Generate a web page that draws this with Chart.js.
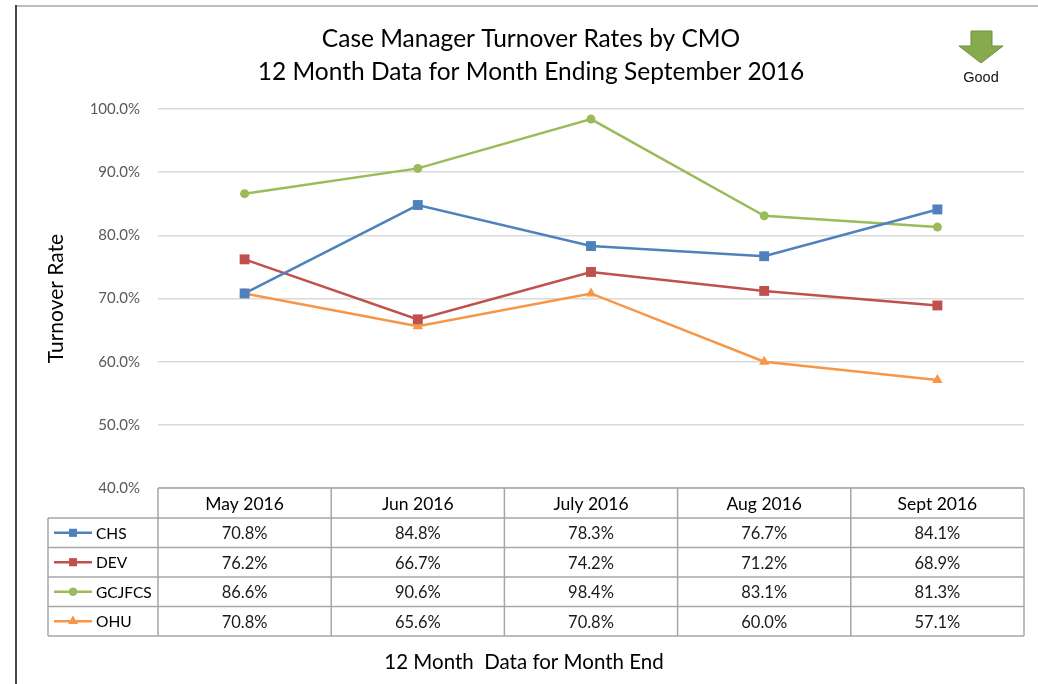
<!DOCTYPE html>
<html>
<head>
<meta charset="utf-8">
<title>Case Manager Turnover Rates by CMO</title>
<script src="https://cdn.jsdelivr.net/npm/chart.js@4"></script>
<style>
  body { margin: 0; background: #fff; }
  #wrap { width: 1038px; height: 684px; position: relative; }
</style>
</head>
<body>
<div id="wrap"><canvas id="turnoverChart" width="1038" height="684"></canvas></div>
<script>
// Chart data
const months = ['May 2016', 'Jun 2016', 'July 2016', 'Aug 2016', 'Sept 2016'];
const chsRates = [70.8, 84.8, 78.3, 76.7, 84.1];
const devRates = [76.2, 66.7, 74.2, 71.2, 68.9];
const gcjfcsRates = [86.6, 90.6, 98.4, 83.1, 81.3];
const ohuRates = [70.8, 65.6, 70.8, 60.0, 57.1];
const yTicks = [40, 50, 60, 70, 80, 90, 100];

const titleLines = ['Case Manager Turnover Rates by CMO', '12 Month Data for Month Ending September 2016'];
const xTitle = '12 Month  Data for Month End';
const yTitle = 'Turnover Rate';

const FONT = 'Lato, "Open Sans", sans-serif';

const series = [
    { label: 'CHS', data: chsRates, color: '#4F81BD', style: 'rect', radius: 7 },
    { label: 'DEV', data: devRates, color: '#C0504D', style: 'rect', radius: 7 },
    { label: 'GCJFCS', data: gcjfcsRates, color: '#9BBB59', style: 'circle', radius: 4.5 },
    { label: 'OHU', data: ohuRates, color: '#F79646', style: 'triangle', radius: 6 }
];

function fmt(v) {
    return v.toFixed(1) + '%';
}

/**
 * Draws the titles, the "Good" arrow, the frame and the data table
 */
const decorPlugin = {
    id: 'decor',
    afterDraw(chart) {
        const ctx = chart.ctx;
        const area = chart.chartArea;
        const xScale = chart.scales.x;
        ctx.save();

        // frame
        ctx.strokeStyle = '#bdbdbd';
        ctx.lineWidth = 2;
        ctx.beginPath();
        ctx.moveTo(15, 6);
        ctx.lineTo(1038, 6);
        ctx.stroke();
        ctx.strokeStyle = '#474747';
        ctx.beginPath();
        ctx.moveTo(16, 5);
        ctx.lineTo(16, 684);
        ctx.stroke();

        // titles
        ctx.fillStyle = '#000';
        ctx.textAlign = 'center';
        ctx.textBaseline = 'middle';
        ctx.font = '24.5px ' + FONT;
        ctx.fillText(titleLines[0], 531, 39);
        ctx.fillText(titleLines[1], 531, 72);

        // good arrow
        ctx.fillStyle = '#86AA4C';
        ctx.strokeStyle = '#6F8F3A';
        ctx.lineWidth = 1;
        ctx.beginPath();
        ctx.moveTo(971, 31);
        ctx.lineTo(992, 31);
        ctx.lineTo(992, 46);
        ctx.lineTo(1003, 46);
        ctx.lineTo(981, 63);
        ctx.lineTo(959, 46);
        ctx.lineTo(971, 46);
        ctx.closePath();
        ctx.fill();
        ctx.stroke();
        ctx.fillStyle = '#111';
        ctx.font = '14.5px "Liberation Sans", Arial, sans-serif';
        ctx.fillText('Good', 981, 78);

        // data table
        const step = area.width / months.length;
        const rowTop = area.bottom;
        const rowH = [30, 29.5, 29.5, 29.5, 29.5];
        const rowY = [rowTop];
        rowH.forEach(h => rowY.push(rowY[rowY.length - 1] + h));
        const legendLeft = 48;

        ctx.strokeStyle = '#a6a6a6';
        ctx.lineWidth = 1.5;
        // horizontal lines
        ctx.beginPath();
        ctx.moveTo(area.left, rowY[0]);
        ctx.lineTo(area.right, rowY[0]);
        for (let r = 1; r < rowY.length; r++) {
            ctx.moveTo(legendLeft, rowY[r]);
            ctx.lineTo(area.right, rowY[r]);
        }
        // vertical lines
        ctx.moveTo(legendLeft, rowY[1]);
        ctx.lineTo(legendLeft, rowY[rowY.length - 1]);
        for (let i = 0; i <= months.length; i++) {
            const x = xScale.getPixelForValue(i) - step / 2;
            ctx.moveTo(x, rowY[0]);
            ctx.lineTo(x, rowY[rowY.length - 1]);
        }
        ctx.stroke();

        // header texts
        ctx.font = '17.5px ' + FONT;
        ctx.fillStyle = '#000';
        months.forEach((m, i) => {
            ctx.fillText(m, xScale.getPixelForValue(i), rowY[0] + rowH[0] / 2 + 1);
        });

        // rows
        series.forEach((s, r) => {
            const cy = rowY[r + 1] + rowH[r + 1] / 2;
            ctx.font = '16.5px ' + FONT;
            ctx.fillStyle = '#1a1a1a';
            ctx.textAlign = 'center';
            s.data.forEach((v, i) => {
                ctx.fillText(fmt(v), xScale.getPixelForValue(i), cy + 1);
            });
            // legend key
            ctx.strokeStyle = s.color;
            ctx.lineWidth = 2.5;
            ctx.beginPath();
            ctx.moveTo(54, cy);
            ctx.lineTo(92, cy);
            ctx.stroke();
            ctx.fillStyle = s.color;
            Chart.helpers.drawPoint(ctx, {
                pointStyle: s.style,
                radius: s.style === 'circle' ? 4 : 5.5,
                borderWidth: 0
            }, 73, cy);
            ctx.fill();
            ctx.fillStyle = '#000';
            ctx.textAlign = 'left';
            ctx.font = '15.5px ' + FONT;
            ctx.fillText(s.label, 96, cy + 1);
        });

        // x axis title
        ctx.textAlign = 'center';
        ctx.font = '20.5px ' + FONT;
        ctx.fillStyle = '#000';
        ctx.fillText(xTitle, 524, 662);

        ctx.restore();
    }
};

const ctx = document.getElementById('turnoverChart').getContext('2d');
new Chart(ctx, {
    type: 'line',
    data: {
        labels: months,
        datasets: series.map(s => ({
            label: s.label,
            data: s.data,
            borderColor: s.color,
            backgroundColor: s.color,
            borderWidth: 2.5,
            pointStyle: s.style,
            pointRadius: s.radius,
            pointBorderWidth: 0,
            tension: 0,
            fill: false
        }))
    },
    options: {
        responsive: false,
        animation: false,
        layout: {
            padding: { top: 109, bottom: 196, left: 0, right: 14 }
        },
        plugins: {
            legend: { display: false },
            title: { display: false },
            tooltip: { enabled: false }
        },
        scales: {
            x: {
                offset: true,
                grid: { display: false, drawTicks: false },
                border: { display: false },
                ticks: { display: false }
            },
            y: {
                min: yTicks[0],
                max: yTicks[yTicks.length - 1],
                afterBuildTicks(scale) {
                    scale.ticks = yTicks.map(v => ({ value: v }));
                },
                afterFit(scale) {
                    scale.width = 158;
                },
                grid: { color: '#d9d9d9', lineWidth: 1.5, drawTicks: false },
                border: { display: false },
                ticks: {
                    padding: 18,
                    color: '#595959',
                    font: { family: FONT, size: 15 },
                    callback: v => fmt(v)
                },
                title: {
                    display: true,
                    text: yTitle,
                    color: '#000',
                    font: { family: FONT, size: 21 },
                    padding: { top: 44, bottom: 0 }
                }
            }
        }
    },
    plugins: [decorPlugin]
});
</script>
</body>
</html>
